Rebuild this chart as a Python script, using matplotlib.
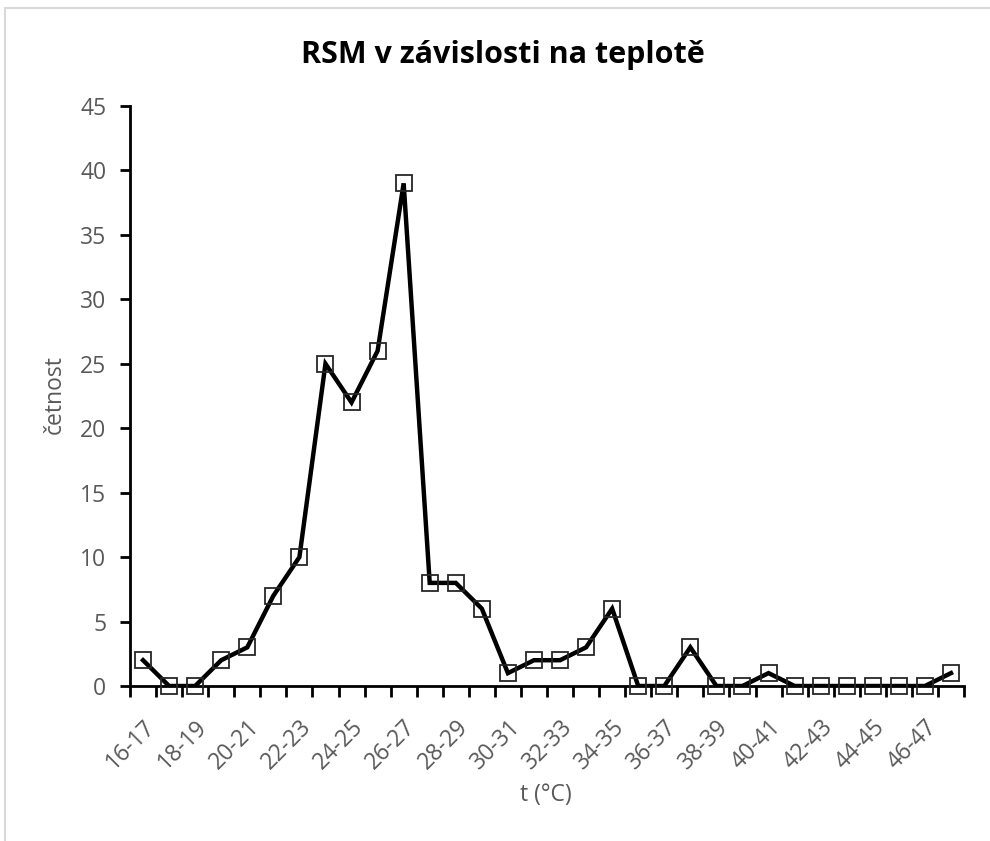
import matplotlib
matplotlib.use("Agg")
import matplotlib.pyplot as plt
from matplotlib.lines import Line2D

categories = [f"{t}-{t+1}" for t in range(16, 48)]
values = [2, 0, 0, 2, 3, 7, 10, 25, 22, 26, 39, 8, 8, 6, 1, 2, 2, 3, 6, 0,
          0, 3, 0, 0, 1, 0, 0, 0, 0, 0, 0, 1]
title = "RSM v závislosti na teplotě"
xlabel = "t (°C)"
ylabel = "četnost"
yticks = [0, 5, 10, 15, 20, 25, 30, 35, 40, 45]

plt.rcParams['font.family'] = ['Open Sans', 'DejaVu Sans']
grey = '#595959'
fs = 16.5

W, H = 990, 841
fig = plt.figure(figsize=(W / 100, H / 100), dpi=100)
ax = fig.add_axes([130 / W, 1 - 686 / H, (964 - 130) / W, (686 - 106) / H])

x = list(range(len(categories)))
ax.plot(x, values, color='black', lw=3.2, solid_joinstyle='miter', zorder=3)
ax.plot(x, values, ls='none', marker='s', ms=11.5, mfc='none', mec='#262626',
        mew=1.3, zorder=4, clip_on=False)

ax.set_xlim(-0.5, len(categories) - 0.5)
ax.set_ylim(0, 45)
ax.set_yticks(yticks)
ax.set_yticklabels([str(v) for v in yticks], color=grey, fontsize=fs)

# minor ticks at category boundaries, labels every other category
ax.set_xticks([i - 0.5 for i in range(len(categories) + 1)], minor=True)
ax.set_xticks(x[::2])
ax.set_xticklabels(categories[::2], rotation=45, ha='right',
                   rotation_mode='anchor', color=grey, fontsize=fs)
ax.tick_params(axis='x', which='major', length=0, pad=21)
ax.tick_params(axis='x', which='minor', length=8, width=2, color='black')
ax.tick_params(axis='y', length=7, width=2, color='black', pad=10)

for s in ['top', 'right']:
    ax.spines[s].set_visible(False)
for s in ['left', 'bottom']:
    ax.spines[s].set_linewidth(2)
    ax.spines[s].set_color('black')

fig.text(503 / W, 1 - 55 / H, title, ha='center', va='center',
         fontsize=22, fontweight='bold', color='black')
fig.text(546 / W, 1 - 795 / H, xlabel, ha='center', va='center',
         fontsize=fs, color=grey)
fig.text(55 / W, 1 - 395 / H, ylabel, ha='center', va='center',
         fontsize=fs, color=grey, rotation=90)

# chart border
fig.add_artist(Line2D([5 / W, 1], [1 - 7.5 / H, 1 - 7.5 / H],
                      transform=fig.transFigure, color='#d9d9d9', lw=1.5))
fig.add_artist(Line2D([5 / W, 5 / W], [0, 1 - 7.5 / H],
                      transform=fig.transFigure, color='#d9d9d9', lw=1.5))

fig.savefig("out.png", dpi=100)
